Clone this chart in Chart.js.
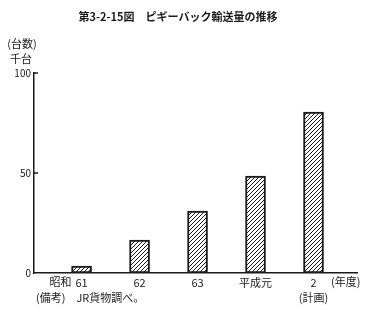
<!DOCTYPE html>
<html>
<head>
<meta charset="utf-8">
<script src="https://cdn.jsdelivr.net/npm/chart.js@4/dist/chart.umd.min.js"></script>
<style>
  html, body { margin: 0; padding: 0; background: #fff; }
  #wrap { width: 365px; height: 314px; }
</style>
</head>
<body>
<div id="wrap"><canvas id="chart"></canvas></div>
<script>
// データ
const categories = ['61', '62', '63', '平成元', ['2', '(計画)']];
const piggyback = [3.5, 16.5, 31, 48.5, 80.5];
const yTicks = [0, 50, 100];

const FONT = '"Noto Sans CJK JP", "Noto Sans", sans-serif';
const INK = '#1a1a1a';

// 斜線のハッチング
function hatch() {
    const s = 4;
    const c = document.createElement('canvas');
    c.width = s; c.height = s;
    const g = c.getContext('2d');
    g.fillStyle = '#fff';
    g.fillRect(0, 0, s, s);
    g.strokeStyle = INK;
    g.lineWidth = 1;
    g.beginPath();
    g.moveTo(-1, s + 1); g.lineTo(s + 1, -1);
    g.moveTo(-1, 1); g.lineTo(1, -1);
    g.moveTo(s - 1, s + 1); g.lineTo(s + 1, s - 1);
    g.stroke();
    return g.createPattern(c, 'repeat');
}

// 見出しや注記
const textPlugin = {
    id: 'texts',
    afterDraw(chart) {
        const ctx = chart.ctx;
        const x = chart.scales.x, y = chart.scales.y;
        ctx.save();
        ctx.fillStyle = INK;
        ctx.textBaseline = 'middle';
        ctx.textAlign = 'center';
        ctx.font = 'bold 11px ' + FONT;
        ctx.fillText('第3-2-15図　ピギーバック輸送量の推移', 178, 17);
        ctx.font = '11px ' + FONT;
        ctx.fillText('(台数)', 22, 44);
        ctx.fillText('千台', 21, 59);
        ctx.textAlign = 'right';
        ctx.fillText('昭和', x.getPixelForValue(0) - 10, 282);
        ctx.textAlign = 'left';
        ctx.fillText('(年度)', 331, 282);
        ctx.fillText('(備考)　JR貨物調べ。', 36, 298);
        // 目盛り(内向き)
        ctx.strokeStyle = INK;
        ctx.lineWidth = 1.5;
        yTicks.slice(1).forEach(v => {
            const py = y.getPixelForValue(v);
            ctx.beginPath();
            ctx.moveTo(x.left, py);
            ctx.lineTo(x.left + 4, py);
            ctx.stroke();
        });
        ctx.restore();
    }
};

new Chart(document.getElementById('chart'), {
    type: 'bar',
    data: {
        datasets: [{
            data: piggyback.map((v, i) => ({ x: i, y: v })),
            backgroundColor: hatch(),
            borderColor: INK,
            borderWidth: 2,
            borderSkipped: false,
            barThickness: 20
        }]
    },
    options: {
        responsive: true,
        maintainAspectRatio: false,
        animation: false,
        layout: { padding: { top: 73, right: 8, left: 0, bottom: 0 } },
        plugins: { legend: { display: false }, tooltip: { enabled: false } },
        scales: {
            x: {
                type: 'linear',
                offset: false,
                min: -0.82,
                max: 4.75,
                afterBuildTicks: s => { s.ticks = categories.map((_, i) => ({ value: i })); },
                afterFit: s => { s.height = 41; },
                grid: { display: false, drawTicks: false },
                border: { color: INK, width: 1.5 },
                ticks: {
                    padding: 3,
                    maxRotation: 0,
                    autoSkip: false,
                    color: INK,
                    font: { family: FONT, size: 11, lineHeight: 1.3 },
                    callback: v => categories[v]
                }
            },
            y: {
                min: 0,
                max: 100,
                afterBuildTicks: s => { s.ticks = yTicks.map(v => ({ value: v })); },
                afterFit: s => { s.width = 34; },
                grid: { display: false, drawTicks: false },
                border: { color: INK, width: 1.5 },
                ticks: {
                    padding: 3,
                    color: INK,
                    font: { family: FONT, size: 10 }
                }
            }
        }
    },
    plugins: [textPlugin]
});
</script>
</body>
</html>
